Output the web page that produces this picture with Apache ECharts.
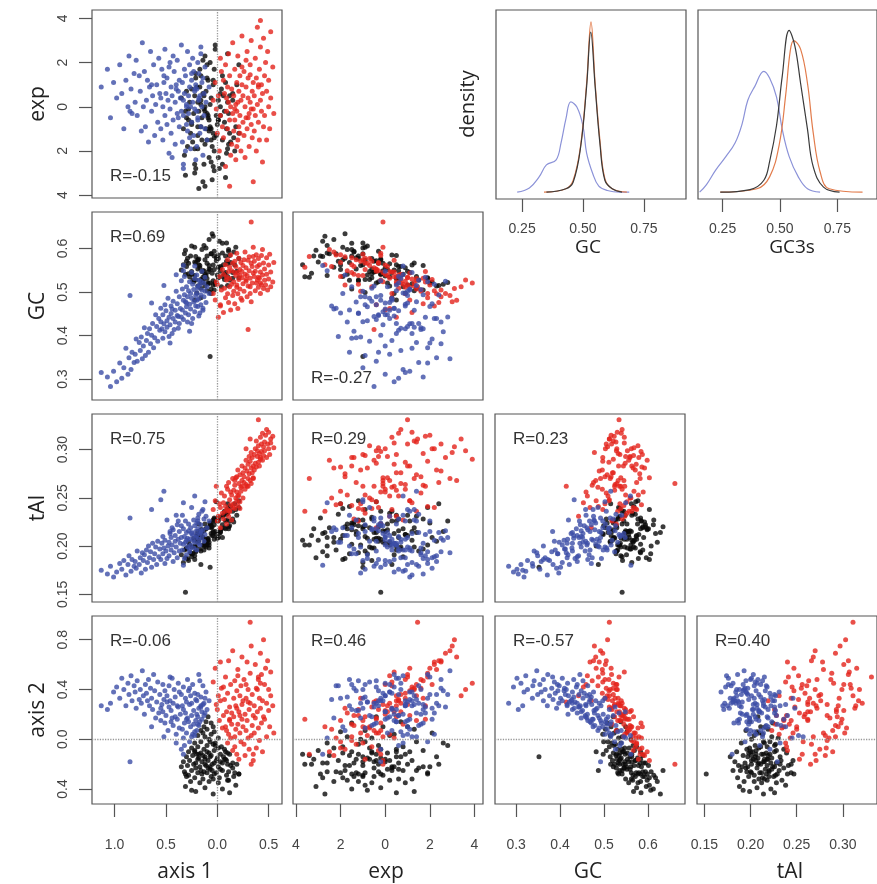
<!DOCTYPE html>
<html>
<head>
<meta charset="utf-8">
<script src="https://cdn.jsdelivr.net/npm/echarts@6/dist/echarts.min.js"></script>
<style>
  html, body { margin: 0; padding: 0; background: #fff; }
  #chart { width: 877px; height: 884px; }
</style>
</head>
<body>
<div id="chart"></div>
<script>
// each row: [axis1, exp, GC, tAI, axis2]
const varNames = ['axis 1', 'exp', 'GC', 'tAI', 'axis 2'];
const varMin = [-1.22, -4.13, 0.252, 0.142, -0.52];
const varMax = [0.63, 4.38, 0.684, 0.337, 0.99];
const varTicks = [[-1, -0.5, 0, 0.5], [-4, -2, 0, 2, 4], [0.3, 0.4, 0.5, 0.6], [0.15, 0.2, 0.25, 0.3], [-0.4, 0, 0.4, 0.8]];
const tickDigits = [1, 0, 1, 2, 1];

// [xVar, yVar] of the lower-triangle panels
const panels = [[0, 1], [0, 2], [1, 2], [0, 3], [1, 3], [2, 3], [0, 4], [1, 4], [2, 4], [3, 4]];
const rLabels = ['R=-0.15', 'R=0.69', 'R=-0.27', 'R=0.75', 'R=0.29', 'R=0.23', 'R=-0.06', 'R=0.46', 'R=-0.57', 'R=0.40'];

const blue = [
  [-0.08,0.9,0.497,0.226,0.31],[-0.10,-1.5,0.512,0.219,0.24],[-0.11,0.2,0.476,0.231,0.38],[-0.12,1.8,0.534,0.212,0.21],
  [-0.13,-0.4,0.489,0.205,0.29],[-0.13,0.6,0.521,0.228,0.19],[-0.14,-2.2,0.463,0.217,0.43],[-0.15,1.1,0.505,0.236,0.16],
  [-0.15,0.0,0.548,0.209,0.22],[-0.16,2.4,0.493,0.214,0.27],[-0.16,-0.9,0.471,0.222,0.34],[-0.17,0.5,0.516,0.201,0.14],
  [-0.17,-1.2,0.452,0.213,0.47],[-0.18,1.5,0.527,0.233,0.11],[-0.18,0.3,0.484,0.207,0.25],[-0.19,-0.6,0.509,0.218,0.18],
  [-0.19,2.0,0.467,0.226,0.36],[-0.20,-1.8,0.539,0.211,0.07],[-0.20,0.8,0.498,0.196,0.20],[-0.20,-0.2,0.481,0.224,0.31],
  [-0.14,1.3,0.458,0.238,0.28],[-0.12,-1.0,0.502,0.246,0.33],[-0.18,0.4,0.445,0.203,0.52],[-0.16,2.7,0.525,0.216,0.26],
  [-0.19,-0.5,0.514,0.229,0.12],
  [-0.21,1.0,0.492,0.209,0.15],[-0.21,-2.4,0.468,0.215,0.32],[-0.22,0.7,0.531,0.204,0.06],[-0.22,-0.1,0.455,0.221,0.37],
  [-0.23,1.6,0.506,0.198,0.12],[-0.23,-1.3,0.477,0.227,0.23],[-0.24,0.2,0.439,0.211,0.44],[-0.24,2.2,0.518,0.206,0.04],
  [-0.25,-0.7,0.486,0.240,0.19],[-0.25,1.2,0.545,0.213,0.02],[-0.26,0.0,0.461,0.201,0.35],[-0.26,-1.9,0.497,0.219,0.10],
  [-0.27,0.9,0.472,0.207,0.28],[-0.27,1.9,0.524,0.194,-0.02],[-0.28,-0.3,0.448,0.216,0.39],[-0.28,0.5,0.503,0.223,0.14],
  [-0.29,-1.1,0.489,0.199,0.17],[-0.29,2.5,0.431,0.208,0.48],[-0.30,0.1,0.512,0.214,0.05],[-0.30,-0.8,0.466,0.191,0.30],
  [-0.31,1.4,0.478,0.226,0.21],[-0.31,-2.0,0.452,0.204,0.33],[-0.32,0.6,0.536,0.210,-0.05],[-0.32,1.7,0.494,0.187,0.13],
  [-0.33,-0.4,0.437,0.218,0.42],[-0.33,0.3,0.481,0.202,0.24],[-0.34,-1.6,0.459,0.232,0.27],[-0.34,1.1,0.507,0.196,0.08],
  [-0.35,2.8,0.443,0.209,0.36],[-0.35,-0.2,0.526,0.221,-0.08],[-0.22,0.8,0.560,0.252,0.03],[-0.27,-1.4,0.410,0.197,0.41],
  [-0.30,0.0,0.475,0.206,0.16],[-0.25,1.5,0.428,0.214,0.29],[-0.33,-2.6,0.549,0.245,0.01],
  [-0.36,0.4,0.462,0.203,0.20],[-0.37,1.2,0.428,0.195,0.38],[-0.37,-0.9,0.489,0.215,0.09],[-0.38,0.7,0.417,0.207,0.45],
  [-0.39,2.1,0.473,0.188,0.16],[-0.39,-0.3,0.446,0.222,0.27],[-0.40,1.0,0.502,0.199,0.04],[-0.41,-1.7,0.431,0.211,0.34],
  [-0.41,0.2,0.458,0.205,0.18],[-0.42,1.6,0.414,0.193,0.40],[-0.43,-0.6,0.479,0.217,0.11],[-0.43,2.3,0.439,0.184,0.29],
  [-0.44,0.5,0.405,0.201,0.49],[-0.45,-1.2,0.451,0.209,0.23],[-0.45,0.9,0.468,0.196,0.14],[-0.46,-0.1,0.425,0.213,0.31],
  [-0.47,1.8,0.442,0.190,0.26],[-0.47,-2.1,0.398,0.204,0.43],[-0.48,0.3,0.486,0.200,0.07],[-0.49,1.3,0.419,0.227,0.35],
  [-0.49,-0.8,0.434,0.187,0.30],[-0.50,0.6,0.457,0.195,0.19],[-0.51,2.6,0.409,0.206,0.39],[-0.51,-0.4,0.471,0.182,0.13],
  [-0.52,1.1,0.427,0.198,0.32],[-0.53,0.0,0.448,0.210,0.22],[-0.53,-1.5,0.394,0.192,0.44],[-0.54,1.7,0.416,0.203,0.28],
  [-0.55,0.4,0.463,0.186,0.15],[-0.55,-1.0,0.432,0.248,0.25],[-0.40,0.8,0.540,0.232,-0.03],[-0.46,2.0,0.383,0.215,0.50],
  [-0.38,-0.5,0.444,0.226,0.26],[-0.52,1.4,0.515,0.257,0.02],[-0.44,-2.3,0.461,0.219,0.17],
  [-0.56,0.6,0.412,0.197,0.36],[-0.57,2.2,0.439,0.189,0.21],[-0.58,-0.7,0.387,0.205,0.46],[-0.59,1.0,0.421,0.181,0.30],
  [-0.60,0.1,0.448,0.199,0.17],[-0.61,-1.3,0.395,0.192,0.39],[-0.62,1.9,0.372,0.186,0.52],[-0.63,0.5,0.428,0.203,0.24],
  [-0.64,-0.2,0.401,0.178,0.33],[-0.65,2.5,0.381,0.194,0.41],[-0.66,0.9,0.416,0.188,0.27],[-0.67,-1.6,0.362,0.200,0.48],
  [-0.68,1.2,0.405,0.183,0.31],[-0.69,0.3,0.389,0.196,0.37],[-0.70,-0.9,0.354,0.176,0.44],[-0.71,1.6,0.418,0.191,0.20],
  [-0.72,0.0,0.376,0.185,0.35],[-0.73,2.9,0.347,0.193,0.55],[-0.74,-1.1,0.397,0.172,0.29],[-0.75,0.7,0.366,0.188,0.40],
  [-0.76,1.4,0.384,0.181,0.32],[-0.78,-0.4,0.341,0.195,0.47],[-0.79,2.1,0.392,0.177,0.25],[-0.80,0.2,0.357,0.184,0.38],
  [-0.64,1.0,0.475,0.238,0.10],
  [-0.81,1.5,0.338,0.179,0.43],[-0.83,-0.3,0.362,0.186,0.31],[-0.84,0.8,0.322,0.174,0.51],[-0.86,2.3,0.349,0.190,0.36],
  [-0.87,0.0,0.311,0.181,0.45],[-0.89,1.2,0.371,0.170,0.27],[-0.91,-1.0,0.326,0.185,0.40],[-0.93,0.6,0.302,0.176,0.49],
  [-0.95,1.9,0.337,0.182,0.33],[-0.98,0.4,0.294,0.173,0.42],[-1.01,1.1,0.318,0.168,0.38],[-1.04,-0.5,0.283,0.179,0.29],
  [-1.07,1.7,0.305,0.171,0.24],[-1.13,0.9,0.315,0.175,0.27],[-0.85,-0.2,0.492,0.229,-0.18],[-0.33,-2.8,0.561,0.180,-0.12]
];

const black = [
  [-0.09,-0.4,0.521,0.208,0.18],[-0.11,0.7,0.538,0.199,0.14],[-0.06,-1.5,0.507,0.224,0.13],[-0.13,-0.1,0.549,0.216,0.10],
  [-0.04,1.0,0.516,0.211,0.10],
  [-0.16,-0.9,0.529,0.195,0.07],[-0.10,1.3,0.503,0.219,0.08],[-0.03,-2.0,0.552,0.207,0.06],[-0.19,0.2,0.514,0.204,0.03],
  [-0.12,-1.7,0.541,0.223,0.02],[-0.06,0.4,0.497,0.213,0.04],[0.01,-0.6,0.533,0.230,0.01],[-0.14,2.1,0.523,0.209,0.05],
  [-0.08,-1.1,0.561,0.201,0.00],
  [-0.22,-2.6,0.538,0.190,-0.03],[-0.16,1.4,0.509,0.214,-0.02],[-0.10,-0.3,0.566,0.205,-0.05],[-0.04,-1.2,0.526,0.227,-0.04],
  [0.04,0.8,0.512,0.218,-0.06],[-0.25,-0.7,0.547,0.199,-0.07],[-0.19,-1.9,0.574,0.211,-0.06],[-0.13,0.5,0.531,0.196,-0.08],
  [-0.07,-0.9,0.499,0.221,-0.02],[0.01,-2.3,0.557,0.209,-0.07],[0.07,-0.2,0.541,0.236,-0.08],[-0.02,2.6,0.518,0.215,-0.03],
  [-0.28,-0.6,0.542,0.185,-0.10],[-0.22,-3.0,0.569,0.206,-0.09],[-0.16,0.1,0.521,0.217,-0.11],[-0.10,-1.5,0.583,0.202,-0.10],
  [-0.03,1.7,0.505,0.228,-0.09],[0.03,-0.4,0.548,0.214,-0.12],[0.10,-1.9,0.536,0.239,-0.11],[-0.30,0.7,0.559,0.197,-0.14],
  [-0.24,-1.6,0.527,0.192,-0.13],[-0.18,-0.2,0.576,0.223,-0.15],[-0.12,2.3,0.514,0.205,-0.14],[-0.06,-2.5,0.588,0.219,-0.13],
  [0.00,-0.8,0.539,0.208,-0.15],[0.06,0.5,0.563,0.232,-0.14],[0.12,-1.2,0.528,0.221,-0.12],[-0.08,-0.6,0.553,0.198,-0.11],
  [-0.20,0.9,0.498,0.212,-0.12],[0.08,1.1,0.545,0.226,-0.10],[-0.14,-3.4,0.534,0.201,-0.13],
  [-0.33,-1.0,0.563,0.183,-0.18],[-0.27,0.2,0.535,0.201,-0.17],[-0.21,-2.8,0.582,0.194,-0.19],[-0.15,-0.5,0.547,0.214,-0.18],
  [-0.09,1.2,0.519,0.206,-0.17],[-0.03,-1.4,0.594,0.222,-0.19],[0.03,0.0,0.556,0.215,-0.18],[0.09,-2.1,0.571,0.233,-0.17],
  [0.15,0.6,0.532,0.228,-0.19],[-0.35,0.4,0.551,0.191,-0.22],[-0.29,-1.8,0.578,0.187,-0.21],[-0.23,-0.3,0.524,0.208,-0.20],
  [-0.17,1.7,0.561,0.197,-0.22],[-0.11,-1.0,0.601,0.218,-0.21],[-0.05,-3.3,0.543,0.211,-0.20],[0.01,0.3,0.585,0.226,-0.22],
  [0.07,-0.7,0.529,0.219,-0.16],[0.13,-1.6,0.568,0.241,-0.21],[0.19,1.0,0.548,0.232,-0.20],[-0.12,0.0,0.537,0.203,-0.16],
  [-0.01,-0.4,0.572,0.246,-0.17],[-0.19,-1.3,0.553,0.215,-0.16],[0.05,-2.6,0.590,0.209,-0.19],[-0.07,2.0,0.521,0.224,-0.22],
  [-0.32,-2.2,0.588,0.196,-0.26],[-0.25,0.8,0.541,0.189,-0.25],[-0.19,-0.9,0.573,0.210,-0.27],[-0.13,-2.6,0.607,0.200,-0.26],
  [-0.07,0.1,0.552,0.223,-0.24],[-0.01,-1.3,0.579,0.212,-0.27],[0.05,1.4,0.536,0.231,-0.25],[0.11,-0.3,0.594,0.220,-0.26],
  [0.17,-2.0,0.562,0.244,-0.27],[-0.28,-0.1,0.566,0.204,-0.29],[-0.21,1.5,0.528,0.195,-0.23],[-0.15,-1.5,0.598,0.217,-0.28],
  [-0.09,-0.5,0.546,0.207,-0.23],[-0.03,-2.9,0.583,0.229,-0.28],[0.03,0.6,0.559,0.216,-0.24],[0.09,-1.0,0.613,0.227,-0.29],
  [0.15,0.3,0.545,0.236,-0.23],[-0.10,1.9,0.531,0.201,-0.27],[0.21,-1.2,0.577,0.247,-0.28],
  [-0.30,-0.5,0.571,0.198,-0.30],[-0.22,-1.9,0.603,0.186,-0.31],[-0.14,0.6,0.549,0.209,-0.32],[-0.06,-1.0,0.588,0.220,-0.30],
  [0.02,-2.8,0.617,0.213,-0.31],[0.10,0.2,0.565,0.234,-0.33],[0.16,-1.4,0.592,0.225,-0.30],[-0.26,-1.2,0.583,0.193,-0.34],
  [-0.17,0.9,0.556,0.212,-0.35],[-0.08,-2.3,0.621,0.204,-0.34],[0.01,-0.6,0.577,0.228,-0.35],[0.11,-1.7,0.598,0.218,-0.33],
  [-0.04,1.2,0.562,0.215,-0.32],
  [-0.31,-3.1,0.596,0.188,-0.38],[-0.12,-0.2,0.574,0.207,-0.39],[0.05,-1.5,0.612,0.222,-0.40],[-0.21,1.3,0.567,0.199,-0.42],
  [0.18,-0.9,0.603,0.238,-0.37],[-0.04,-2.7,0.628,0.214,-0.44],[0.12,0.5,0.584,0.226,-0.43],[-0.25,-0.8,0.606,0.192,-0.41],
  [-0.12,-3.6,0.535,0.201,-0.20],[-0.02,2.8,0.522,0.226,-0.05],[-0.31,-0.2,0.541,0.152,-0.28],[0.08,-3.2,0.583,0.218,-0.16],
  [-0.18,-3.7,0.563,0.206,-0.12],[0.21,1.9,0.533,0.240,-0.28],[-0.05,-1.8,0.634,0.220,-0.25],[-0.22,0.5,0.482,0.200,-0.10],
  [-0.07,-1.0,0.352,0.178,-0.14],[-0.16,0.3,0.487,0.181,-0.25],[0.10,2.4,0.515,0.244,-0.20]
];

const red = [
  [-0.04,0.3,0.497,0.238,0.46],[-0.02,1.1,0.482,0.247,0.57],[0.00,-1.2,0.518,0.226,0.24],[0.01,0.5,0.442,0.231,0.35],
  [0.02,-2.0,0.536,0.244,0.15],[0.03,-0.4,0.471,0.219,0.31],[0.04,1.6,0.505,0.255,0.41],[0.05,-0.9,0.552,0.234,0.09],
  [-0.01,-0.1,0.524,0.262,0.28],[0.03,2.2,0.468,0.240,0.62],
  [0.06,1.2,0.453,0.245,0.42],[0.06,-1.4,0.541,0.228,0.19],[0.07,0.6,0.509,0.252,0.32],[0.08,-2.7,0.563,0.236,0.10],
  [0.08,1.9,0.487,0.241,0.50],[0.09,-0.2,0.528,0.223,0.07],[0.10,0.9,0.496,0.259,0.37],[0.10,-1.0,0.574,0.238,-0.03],
  [0.11,2.4,0.476,0.266,0.63],[0.11,0.2,0.547,0.231,0.04],[0.12,-0.6,0.512,0.248,0.26],[0.12,1.4,0.531,0.236,0.15],
  [0.13,-2.2,0.585,0.243,0.01],[0.13,0.0,0.459,0.256,0.44],[0.14,0.8,0.518,0.227,0.12],[0.14,-1.7,0.549,0.253,0.21],
  [0.15,2.9,0.492,0.270,0.71],[0.15,-0.3,0.566,0.240,-0.09],[0.09,0.4,0.535,0.262,0.22],[0.12,-3.6,0.557,0.236,0.16],
  [0.16,0.5,0.524,0.258,0.18],[0.16,-1.1,0.502,0.244,0.33],[0.17,1.7,0.473,0.263,0.47],[0.17,-0.6,0.571,0.239,-0.06],
  [0.18,0.1,0.538,0.271,0.27],[0.18,-2.4,0.559,0.250,0.08],[0.19,1.1,0.511,0.247,0.39],[0.19,-0.2,0.589,0.256,-0.12],
  [0.20,2.3,0.496,0.279,0.56],[0.20,-1.5,0.545,0.242,0.12],[0.21,0.7,0.529,0.265,0.22],[0.21,-0.9,0.578,0.253,-0.16],
  [0.22,1.4,0.507,0.274,0.35],[0.22,-0.4,0.552,0.246,0.05],[0.23,0.3,0.486,0.261,0.43],[0.23,-2.0,0.568,0.257,-0.02],
  [0.24,1.0,0.533,0.283,0.28],[0.24,3.2,0.481,0.268,0.66],[0.25,-0.7,0.561,0.250,0.10],[0.25,0.5,0.519,0.276,0.31],
  [0.17,-0.1,0.545,0.268,0.02],[0.20,0.2,0.462,0.252,0.51],[0.22,-1.2,0.538,0.239,0.19],[0.24,1.8,0.547,0.262,0.16],
  [0.19,-1.8,0.516,0.272,0.25],
  [0.26,-1.3,0.574,0.266,-0.04],[0.26,1.6,0.502,0.272,0.48],[0.27,0.0,0.541,0.259,0.20],[0.27,-2.3,0.592,0.281,-0.13],
  [0.28,0.9,0.525,0.264,0.33],[0.28,-0.5,0.556,0.289,0.07],[0.29,2.5,0.489,0.278,0.62],[0.29,-1.0,0.538,0.262,0.15],
  [0.30,0.4,0.573,0.285,0.01],[0.30,1.3,0.514,0.270,0.40],[0.31,-0.3,0.549,0.293,0.24],[0.31,-1.8,0.581,0.275,-0.08],
  [0.32,1.9,0.497,0.288,0.53],[0.32,0.2,0.532,0.268,0.29],[0.33,-0.8,0.566,0.281,0.03],[0.33,3.0,0.478,0.297,0.75],
  [0.34,0.7,0.521,0.276,0.36],[0.34,-1.4,0.559,0.292,0.11],[0.35,1.1,0.544,0.283,0.19],[0.35,-0.1,0.603,0.271,-0.17],
  [0.30,-0.5,0.414,0.262,0.30],[0.32,1.45,0.512,0.311,0.94],[0.33,-0.1,0.661,0.265,-0.20],[0.28,2.1,0.529,0.301,0.44],
  [0.35,-3.4,0.582,0.270,-0.12],
  [0.36,0.5,0.536,0.295,0.27],[0.36,-1.1,0.571,0.279,0.05],[0.37,2.2,0.503,0.301,0.60],[0.37,-0.4,0.548,0.286,0.17],
  [0.38,1.3,0.521,0.309,0.41],[0.38,-2.0,0.586,0.282,-0.07],[0.39,0.1,0.559,0.293,0.22],[0.39,3.6,0.528,0.299,0.40],
  [0.40,0.9,0.511,0.287,0.48],[0.40,-0.7,0.577,0.304,0.09],[0.41,1.7,0.532,0.296,0.33],[0.41,-1.5,0.563,0.283,-0.01],
  [0.42,0.3,0.546,0.313,0.25],[0.42,2.7,0.497,0.292,0.69],[0.43,-0.2,0.584,0.298,0.13],[0.43,1.0,0.517,0.306,0.52],
  [0.44,-2.5,0.598,0.289,-0.10],[0.44,0.6,0.539,0.317,0.31],[0.45,3.1,0.508,0.303,0.80],[0.45,-0.9,0.567,0.294,0.18],
  [0.40,1.0,0.534,0.331,0.50],[0.42,3.9,0.521,0.290,0.45],
  [0.46,1.4,0.527,0.308,0.44],[0.46,-0.4,0.553,0.299,0.16],[0.47,2.0,0.516,0.315,0.57],[0.48,-1.5,0.579,0.292,0.02],
  [0.48,0.7,0.541,0.321,0.29],[0.49,2.5,0.505,0.306,0.63],[0.50,0.0,0.562,0.301,0.23],[0.50,1.2,0.530,0.318,0.40],
  [0.51,-1.0,0.587,0.295,0.10],[0.52,3.4,0.512,0.311,0.35],[0.52,0.4,0.546,0.307,0.54],[0.54,1.8,0.523,0.314,0.27],
  [0.55,-0.3,0.568,0.302,0.05]
];

// density curves, relative height (red GC peak = 1)
const gcDensBlue = [[0.23,0],[0.28,0.025],[0.32,0.09],[0.35,0.16],[0.39,0.19],[0.41,0.29],[0.43,0.43],[0.45,0.53],[0.475,0.50],[0.50,0.39],[0.515,0.23],[0.54,0.11],[0.565,0.035],[0.60,0.01],[0.65,0],[0.69,0]];
const gcDensBlack = [[0.35,0],[0.43,0.02],[0.46,0.06],[0.49,0.26],[0.515,0.62],[0.532,0.94],[0.55,0.62],[0.57,0.28],[0.59,0.07],[0.62,0.02],[0.66,0]];
const gcDensRed = [[0.34,0],[0.43,0.02],[0.46,0.07],[0.49,0.27],[0.515,0.64],[0.533,1.0],[0.55,0.64],[0.57,0.30],[0.59,0.08],[0.62,0.02],[0.68,0]];
const gc3DensBlue = [[0.15,0],[0.18,0.045],[0.22,0.13],[0.265,0.21],[0.305,0.29],[0.335,0.40],[0.36,0.54],[0.39,0.62],[0.43,0.71],[0.455,0.67],[0.485,0.56],[0.51,0.37],[0.54,0.21],[0.58,0.09],[0.62,0.02],[0.675,0]];
const gc3DensBlack = [[0.24,0],[0.37,0.015],[0.43,0.07],[0.455,0.18],[0.485,0.39],[0.51,0.68],[0.54,0.95],[0.565,0.86],[0.59,0.64],[0.62,0.37],[0.645,0.15],[0.69,0.03],[0.76,0]];
const gc3DensRed = [[0.24,0],[0.40,0.02],[0.455,0.09],[0.497,0.28],[0.525,0.57],[0.545,0.83],[0.56,0.89],[0.59,0.84],[0.62,0.64],[0.645,0.35],[0.675,0.12],[0.715,0.02],[0.86,0]];
const densTicks = [0.25, 0.5, 0.75];

const colLeft = [92, 293, 495, 697];
const rowTop = [10, 212, 414, 616];
const PW = 190, PH = 188;
const tickFont = 'Liberation Sans';
const titleFont = 'Open Sans';

function makeAxis(v, idx, isX, show) {
  return {
    type: 'value', gridIndex: idx, min: varMin[v], max: varMax[v],
    axisLine: { show: false, onZero: false },
    splitLine: { show: false },
    axisTick: { show: show, length: 13, customValues: varTicks[v], lineStyle: { color: '#555', width: 1.2 } },
    axisLabel: {
      show: show, customValues: varTicks[v],
      formatter: val => Math.abs(val).toFixed(tickDigits[v]),
      rotate: isX ? 0 : 90, margin: isX ? 34 : 22,
      color: '#444', fontSize: 14, fontFamily: tickFont
    }
  };
}

const grids = [], xAxes = [], yAxes = [], series = [], texts = [];
const refLine = { type: 'dotted', color: '#999', width: 1.3 };

panels.forEach((p, i) => {
  const xv = p[0], yv = p[1], row = yv - 1, col = xv;
  grids.push({ left: colLeft[col], top: rowTop[row], width: PW, height: PH,
    show: true, borderColor: '#555', borderWidth: 1.2, backgroundColor: 'transparent' });
  xAxes.push(makeAxis(xv, i, true, row === 3));
  yAxes.push(makeAxis(yv, i, false, col === 0));

  const marks = [];
  if (col === 0) marks.push({ xAxis: 0 });
  if (row === 3) marks.push({ yAxis: 0 });

  [[black, '#0a0a0a'], [red, '#e3231c'], [blue, '#3c4ea6']].forEach((g, k) => {
    const s = {
      type: 'scatter', xAxisIndex: i, yAxisIndex: i, symbolSize: 5, silent: true,
      itemStyle: { color: g[1] },
      data: g[0].map(r => [r[xv], r[yv]])
    };
    if (k === 0 && marks.length) {
      s.markLine = { silent: true, symbol: ['none', 'none'], label: { show: false },
        lineStyle: refLine, data: marks, animation: false };
    }
    series.push(s);
  });

  const bottomLabel = (i === 0 || i === 2);
  texts.push({
    type: 'text', left: colLeft[col] + 18, top: rowTop[row] + (bottomLabel ? 158 : 17),
    style: { text: rLabels[i], font: '17px "' + tickFont + '"', fill: '#333' }
  });
});

// density panels
const densCols = [2, 3];
const densSets = [[gcDensBlue, gcDensBlack, gcDensRed], [gc3DensBlue, gc3DensBlack, gc3DensRed]];
densCols.forEach((c, j) => {
  const idx = grids.length;
  grids.push({ left: colLeft[c] + 1, top: 10, width: PW, height: 189,
    show: true, borderColor: '#555', borderWidth: 1.2, backgroundColor: 'transparent' });
  xAxes.push({
    type: 'value', gridIndex: idx, min: 0.143, max: 0.923,
    axisLine: { show: false, onZero: false }, splitLine: { show: false },
    axisTick: { length: 13, customValues: densTicks, lineStyle: { color: '#555', width: 1.2 } },
    axisLabel: { customValues: densTicks, formatter: val => val.toFixed(2), margin: 23,
      color: '#444', fontSize: 14, fontFamily: tickFont }
  });
  yAxes.push({ type: 'value', gridIndex: idx, min: -0.04, max: 1.07, show: false });
  [['#8b92d8', 0], ['#e27c4c', 2], ['#3a3a3a', 1]].forEach(cfg => {
    series.push({
      type: 'line', xAxisIndex: idx, yAxisIndex: idx, smooth: 0.4, showSymbol: false, silent: true,
      lineStyle: { color: cfg[0], width: 1.2 },
      data: densSets[j][cfg[1]]
    });
  });
});

// axis titles
const rowTitles = ['exp', 'GC', 'tAI', 'axis 2'];
rowTitles.forEach((t, r) => {
  texts.push({ type: 'text', x: 38, y: rowTop[r] + PH / 2, rotation: Math.PI / 2,
    style: { text: t, font: '21px "' + titleFont + '"', fill: '#222', textAlign: 'center', textVerticalAlign: 'middle' } });
});
const colTitles = ['axis 1', 'exp', 'GC', 'tAI'];
colTitles.forEach((t, c) => {
  texts.push({ type: 'text', x: colLeft[c] + PW / 2 - 2, y: 872,
    style: { text: t, font: '21px "' + titleFont + '"', fill: '#222', textAlign: 'center', textVerticalAlign: 'middle' } });
});
texts.push({ type: 'text', x: 468, y: 104, rotation: Math.PI / 2,
  style: { text: 'density', font: '20px "' + titleFont + '"', fill: '#222', textAlign: 'center', textVerticalAlign: 'middle' } });
texts.push({ type: 'text', x: 588, y: 248,
  style: { text: 'GC', font: '19px "' + titleFont + '"', fill: '#222', textAlign: 'center', textVerticalAlign: 'middle' } });
texts.push({ type: 'text', x: 792, y: 248,
  style: { text: 'GC3s', font: '19px "' + titleFont + '"', fill: '#222', textAlign: 'center', textVerticalAlign: 'middle' } });

const chart = echarts.init(document.getElementById('chart'));
chart.setOption({
  animation: false,
  backgroundColor: '#fff',
  grid: grids,
  xAxis: xAxes,
  yAxis: yAxes,
  series: series,
  graphic: { elements: texts }
});
</script>
</body>
</html>
